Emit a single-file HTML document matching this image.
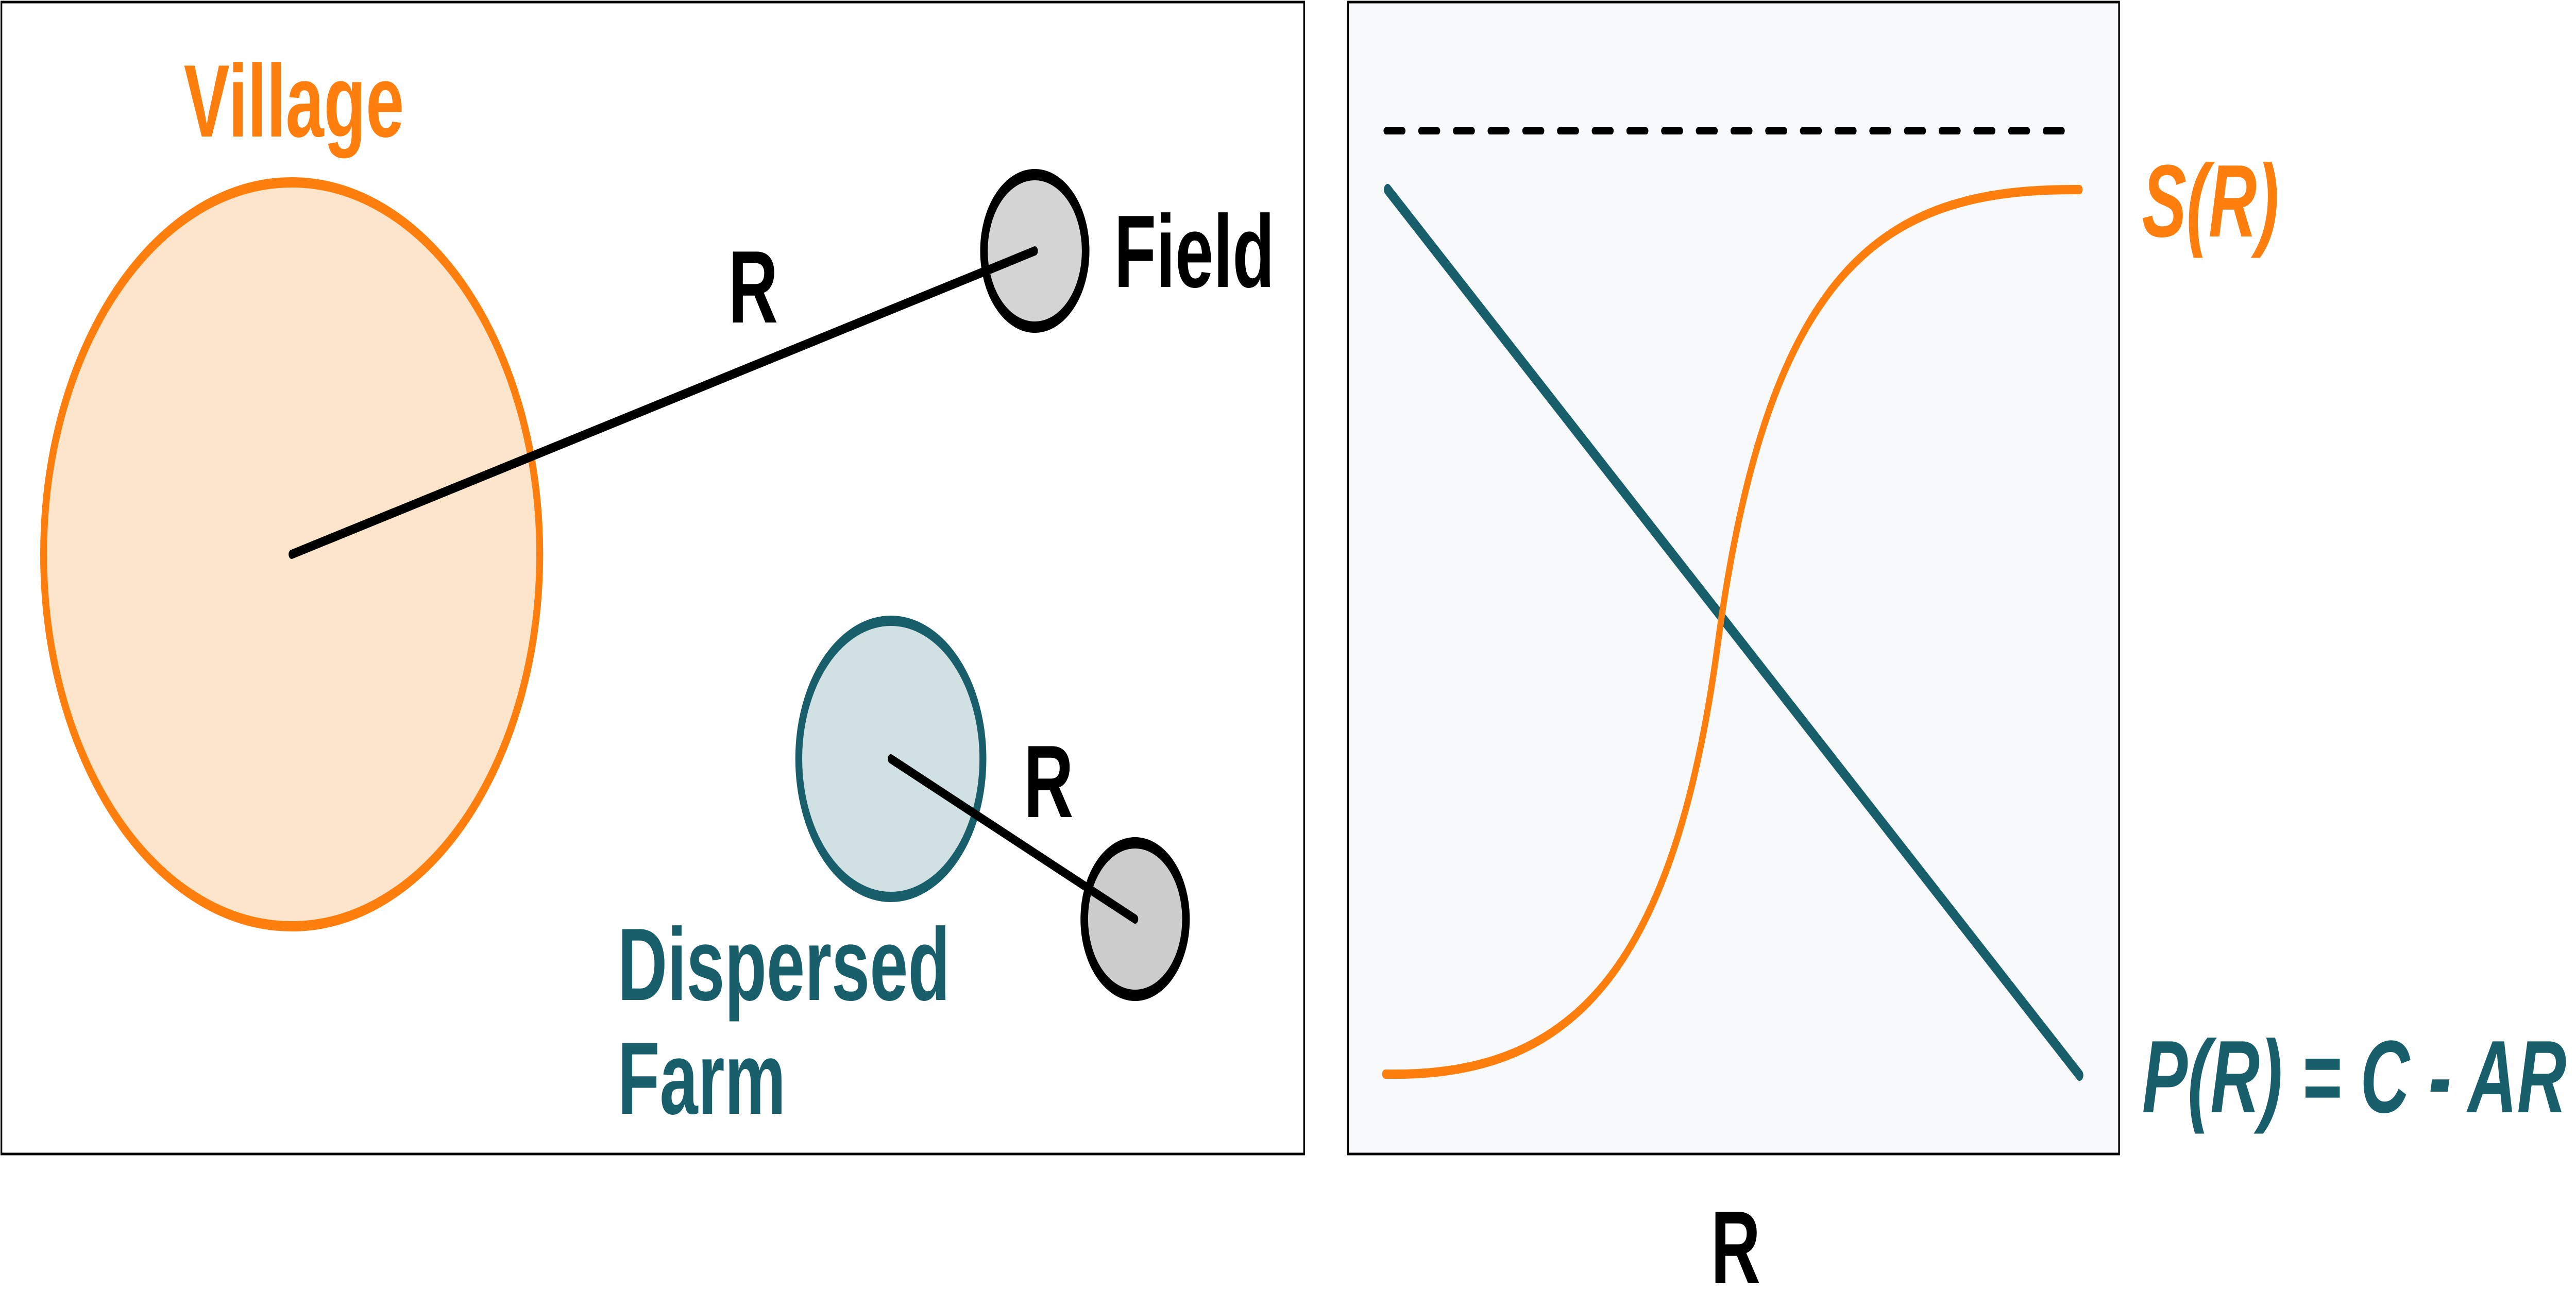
<!DOCTYPE html>
<html><head><meta charset="utf-8"><style>
html,body{margin:0;padding:0;background:#fff;width:100%;height:100%;overflow:hidden;}
svg{display:block;width:100vw;height:100vh;}
text{font-family:"Liberation Sans",Arial,sans-serif;font-weight:bold;}
</style></head><body>
<svg viewBox="0 0 7498 2537" preserveAspectRatio="none" xmlns="http://www.w3.org/2000/svg">
<rect x="0" y="0" width="7498" height="2537" fill="#fff"/>
<!-- left panel -->
<rect x="4" y="4" width="3792" height="2236" fill="#fff" stroke="#000" stroke-width="5"/>
<circle cx="849" cy="1076" r="722" fill="#fde5cc" stroke="#ff7f0e" stroke-width="20"/>
<text x="535" y="265" font-size="200" fill="#ff7f0e">Village</text>
<line x1="849" y1="1076" x2="3012" y2="487" stroke="#000" stroke-width="18" stroke-linecap="round"/>
<circle cx="3012" cy="487" r="148" fill="#cccccc" fill-opacity="0.85" stroke="#000" stroke-width="22"/>
<line x1="2870" y1="526" x2="3012" y2="487" stroke="#000" stroke-width="18" stroke-linecap="round"/>
<text x="2120" y="626" font-size="200" fill="#000">R</text>
<text x="3243" y="557" font-size="200" fill="#000">Field</text>
<circle cx="2593" cy="1473" r="268" fill="#d0e0e3" stroke="#185f6b" stroke-width="20"/>
<circle cx="3304" cy="1784" r="148" fill="#cccccc" stroke="#000" stroke-width="22"/>
<line x1="2593" y1="1473" x2="3304" y2="1784" stroke="#000" stroke-width="18" stroke-linecap="round"/>
<text x="2980" y="1586" font-size="200" fill="#000">R</text>
<text x="1798" y="1941" font-size="200" fill="#185f6b">Dispersed</text>
<text x="1798" y="2162" font-size="200" fill="#185f6b">Farm</text>
<!-- right panel -->
<rect x="3924" y="4" width="2244" height="2236" fill="#f7f9fb" stroke="#000" stroke-width="5"/>
<line x1="4034" y1="254" x2="6053" y2="254" stroke="#000" stroke-width="14" stroke-dasharray="50 51" stroke-linecap="round"/>
<line x1="4039" y1="368" x2="6053" y2="2087" stroke="#185f6b" stroke-width="22" stroke-linecap="round"/>
<path d="M4032,2085 C4560,2092 4870,1900 5000,1250 C5150,500 5500,365 6053,368" fill="none" stroke="#ff7f0e" stroke-width="18" stroke-linecap="round"/>
<text x="6235" y="459" font-size="200" font-style="italic" fill="#ff7f0e" textLength="398" lengthAdjust="spacingAndGlyphs">S(R)</text>
<text x="6235" y="2159" font-size="200" font-style="italic" fill="#185f6b" textLength="1235" lengthAdjust="spacingAndGlyphs">P(R) = C - AR</text>
<text x="5052" y="2490" font-size="200" text-anchor="middle" fill="#000">R</text>
</svg>
</body></html>
